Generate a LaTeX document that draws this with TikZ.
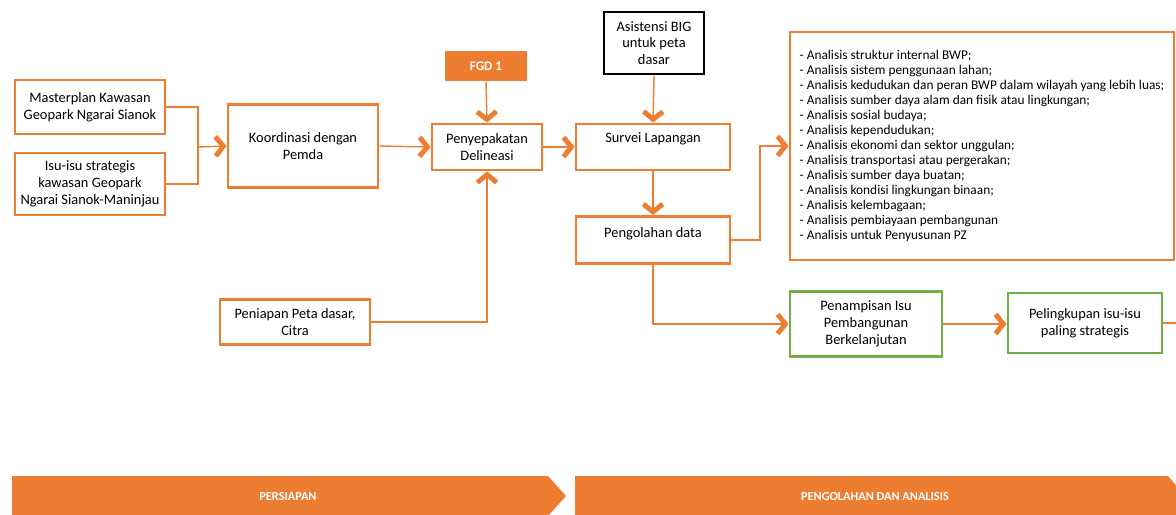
\documentclass[tikz,border=0pt]{standalone}
\usepackage{fontspec}
\setmainfont{Carlito}
\usetikzlibrary{arrows.meta}
\definecolor{oranye}{HTML}{ED7D31}
\definecolor{hijau}{HTML}{70AD47}
\tikzset{
  kotak/.style={draw=oranye, line width=1.6pt, fill=white, align=center,
    font=\fontsize{8.2}{9.6}\selectfont, inner sep=2pt},
  kotakhijau/.style={kotak, draw=hijau},
  garis/.style={draw=oranye, line width=0.8pt,
    -{Straight Barb[length=4.5pt,width=11pt,line width=2.8pt]}},
  polos/.style={draw=oranye, line width=0.8pt},
  tahap/.style={fill=oranye, draw=none},
}
\begin{document}
\begin{tikzpicture}[x=0.02cm, y=-0.02cm]
    \useasboundingbox (0,0) rectangle (1176,514);
    % kotak-kotak
    \node[kotak, minimum width=3cm, minimum height=1.08cm] (master) at (90,107) {Masterplan Kawasan\\Geopark Ngarai Sianok};
    \node[kotak, minimum width=3cm, minimum height=1.24cm] (isu) at (90,184) {Isu-isu strategis\\kawasan Geopark\\Ngarai Sianok-Maninjau};
    \node[kotak, minimum width=3cm, minimum height=1.66cm] (koord) at (303,146) {Koordinasi dengan\\Pemda};
    \node[kotak, fill=oranye, text=white, minimum width=1.6cm, minimum height=0.56cm, font=\fontsize{7.5}{9}\selectfont\bfseries] (fgd) at (486,66) {FGD 1};
    \node[kotak, minimum width=2.2cm, minimum height=0.92cm] (sepakat) at (487,147) {Penyepakatan\\Delineasi};
    \node[kotak, draw=black, minimum width=2cm, minimum height=1.24cm] (asist) at (654,43) {Asistensi BIG\\untuk peta\\dasar};
    \node[kotak, minimum width=3.08cm, minimum height=0.92cm,
      label={[anchor=north, yshift=-2pt, font=\fontsize{8.2}{9.6}\selectfont]north:Survei Lapangan}] (survei) at (653,147) {};
    \node[kotak, minimum width=3.08cm, minimum height=0.94cm,
      label={[anchor=north, yshift=-3.5pt, font=\fontsize{8.2}{9.6}\selectfont]north:Pengolahan data}] (olah) at (653,240) {};
    \node[kotak, minimum width=7.68cm, minimum height=4.56cm, align=left, inner sep=5pt,
      font=\fontsize{7.6}{8.55}\selectfont] (analisis) at (982,146) {%
      - Analisis struktur internal BWP;\\
      - Analisis sistem penggunaan lahan;\\
      - Analisis kedudukan dan peran BWP dalam wilayah yang lebih luas;\\
      - Analisis sumber daya alam dan fisik atau lingkungan;\\
      - Analisis sosial budaya;\\
      - Analisis kependudukan;\\
      - Analisis ekonomi dan sektor unggulan;\\
      - Analisis transportasi atau pergerakan;\\
      - Analisis sumber daya buatan;\\
      - Analisis kondisi lingkungan binaan;\\
      - Analisis kelembagaan;\\
      - Analisis pembiayaan pembangunan\\
      - Analisis untuk Penyusunan PZ};
    \node[kotak, minimum width=3cm, minimum height=0.9cm] (peniapan) at (295,322) {Peniapan Peta dasar,\\Citra};
    \node[kotakhijau, minimum width=3.04cm, minimum height=1.3cm] (tampis) at (866,324) {Penampisan Isu\\Pembangunan\\Berkelanjutan};
    \node[kotakhijau, minimum width=3.08cm, minimum height=1.2cm] (lingkup) at (1085,323) {Pelingkupan isu-isu\\paling strategis};
    \coordinate (ujung) at (1176,323);
    % penghubung
    \draw[polos] (master.east) -| (198,147);
    \draw[polos] (isu.east) -| (198,147);
    \draw[garis] (198,147) -- (koord.west);
    \draw[garis] (koord.east) -- (sepakat.west);
    \draw[garis] (fgd.south) -- (sepakat.north);
    \draw[garis] (peniapan.east) -| (sepakat.south);
    \draw[garis] (sepakat.east) -- (survei.west);
    \draw[garis] (asist.south) -- (survei.north);
    \draw[garis] (survei.south) -- (olah.north);
    \draw[garis] (olah.east) -- (760,240) |- (analisis.west);
    \draw[garis] (olah.south) |- (tampis.west);
    \draw[garis] (tampis.east) -- (tampis.east -| lingkup.west);
    \draw[polos] (lingkup.east) -- (ujung);
    % tahapan
    \fill[tahap] (12,476) -- (548,476) -- (566,496) -- (548,516) -- (12,516) -- cycle;
    \fill[tahap] (575,476) -- (1168,476) -- (1180,490) -- (1180,516) -- (575,516) -- cycle;
    \node[text=white, font=\fontsize{7}{8}\selectfont\bfseries] (persiapan) at (288,497) {PERSIAPAN};
    \node[text=white, font=\fontsize{7}{8}\selectfont\bfseries] (pengolahan) at (875,497) {PENGOLAHAN DAN ANALISIS};
\end{tikzpicture}
\end{document}
